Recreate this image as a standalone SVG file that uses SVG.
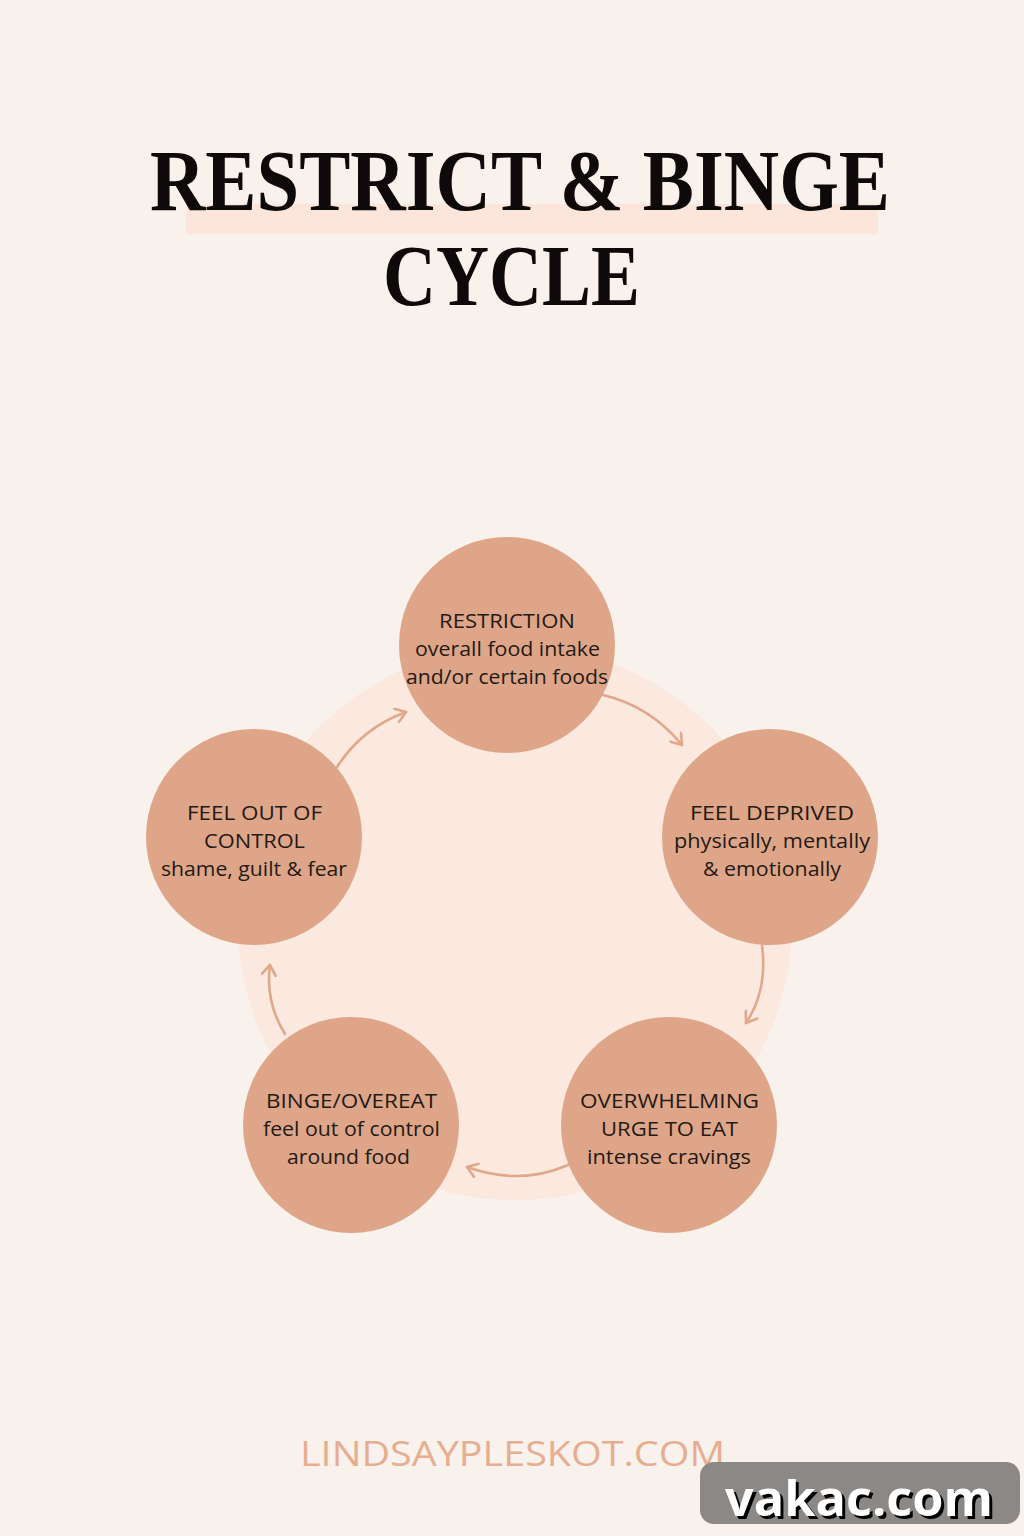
<svg xmlns="http://www.w3.org/2000/svg" width="1024" height="1536" viewBox="0 0 1024 1536">
<defs>
<style>
.node{fill:#dfa588}
.lbl{font-family:"Open Sans","Noto Sans",sans-serif;font-size:20px;fill:#231a15;text-anchor:middle}
.conn{fill:none;stroke:#e0a88b;stroke-width:2.6;stroke-linecap:round;marker-end:url(#ah)}
.title{font-family:"Liberation Serif","DejaVu Serif",serif;font-weight:bold;fill:#0d0a09}
</style>
<marker id="ah" viewBox="-12 -8 14 16" markerWidth="14" markerHeight="16" refX="0" refY="0" orient="auto" markerUnits="userSpaceOnUse">
<path d="M-10,-7 L0,0 L-10,7" fill="none" stroke="#e0a88b" stroke-width="2.6" stroke-linecap="round" stroke-linejoin="round"/>
</marker>
</defs>
<rect width="1024" height="1536" fill="#f9f1ec"/>
<g id="title">
<rect x="186" y="204" width="692" height="30" fill="#fce5da"/>
<text class="title" x="150" y="210" font-size="86" textLength="740" lengthAdjust="spacingAndGlyphs">RESTRICT &amp; BINGE</text>
<text class="title" x="383" y="305" font-size="86" textLength="257" lengthAdjust="spacingAndGlyphs">CYCLE</text>
</g>
<circle id="ring" cx="515" cy="923" r="277" fill="#fbe8df"/>
<g id="connectors">
<path class="conn" d="M603,695 Q650,706 682,745"/>
<path class="conn" d="M762,945 Q768,990 746,1023"/>
<path class="conn" d="M568,1165 Q520,1186 467,1167"/>
<path class="conn" d="M285,1034 Q265,1002 270,965"/>
<path class="conn" d="M337,767 Q362,728 406,712"/>
</g>
<g id="n-restriction">
<circle class="node" cx="507" cy="645" r="108"/>
<text class="lbl" x="507" y="628" textLength="136" lengthAdjust="spacingAndGlyphs">RESTRICTION</text>
<text class="lbl" x="507.5" y="656" textLength="185" lengthAdjust="spacingAndGlyphs">overall food intake</text>
<text class="lbl" x="507" y="684" textLength="202" lengthAdjust="spacingAndGlyphs">and/or certain foods</text>
</g>
<g id="n-deprived">
<circle class="node" cx="770" cy="837" r="108"/>
<text class="lbl" x="772" y="820" textLength="164" lengthAdjust="spacingAndGlyphs">FEEL DEPRIVED</text>
<text class="lbl" x="772" y="848" textLength="196" lengthAdjust="spacingAndGlyphs">physically, mentally</text>
<text class="lbl" x="772" y="876" textLength="138" lengthAdjust="spacingAndGlyphs">&amp; emotionally</text>
</g>
<g id="n-urge">
<circle class="node" cx="669" cy="1125" r="108"/>
<text class="lbl" x="669.5" y="1108" textLength="179" lengthAdjust="spacingAndGlyphs">OVERWHELMING</text>
<text class="lbl" x="669.5" y="1136" textLength="137" lengthAdjust="spacingAndGlyphs">URGE TO EAT</text>
<text class="lbl" x="669" y="1164" textLength="164" lengthAdjust="spacingAndGlyphs">intense cravings</text>
</g>
<g id="n-binge">
<circle class="node" cx="351" cy="1125" r="108"/>
<text class="lbl" x="351.5" y="1108" textLength="171" lengthAdjust="spacingAndGlyphs">BINGE/OVEREAT</text>
<text class="lbl" x="351.5" y="1136" textLength="177" lengthAdjust="spacingAndGlyphs">feel out of control</text>
<text class="lbl" x="348.5" y="1164" textLength="123" lengthAdjust="spacingAndGlyphs">around food</text>
</g>
<g id="n-control">
<circle class="node" cx="254" cy="837" r="108"/>
<text class="lbl" x="254.5" y="820" textLength="135" lengthAdjust="spacingAndGlyphs">FEEL OUT OF</text>
<text class="lbl" x="254.5" y="848" textLength="101" lengthAdjust="spacingAndGlyphs">CONTROL</text>
<text class="lbl" x="254" y="876" textLength="186" lengthAdjust="spacingAndGlyphs">shame, guilt &amp; fear</text>
</g>
<text x="300" y="1466" font-family="Open Sans, Noto Sans, sans-serif" font-size="34" fill="#e5ae90" textLength="425" lengthAdjust="spacingAndGlyphs">LINDSAYPLESKOT.COM</text>
<g id="watermark">
<rect x="700" y="1462" width="320" height="62" rx="14" fill="#8c8885"/>
<text x="728" y="1519" font-family="Open Sans, Noto Sans, sans-serif" font-weight="bold" font-size="48" fill="#000" textLength="268" lengthAdjust="spacingAndGlyphs">vakac.com</text>
<text x="725" y="1516" font-family="Open Sans, Noto Sans, sans-serif" font-weight="bold" font-size="48" fill="#fff" textLength="268" lengthAdjust="spacingAndGlyphs">vakac.com</text>
</g>
</svg>
